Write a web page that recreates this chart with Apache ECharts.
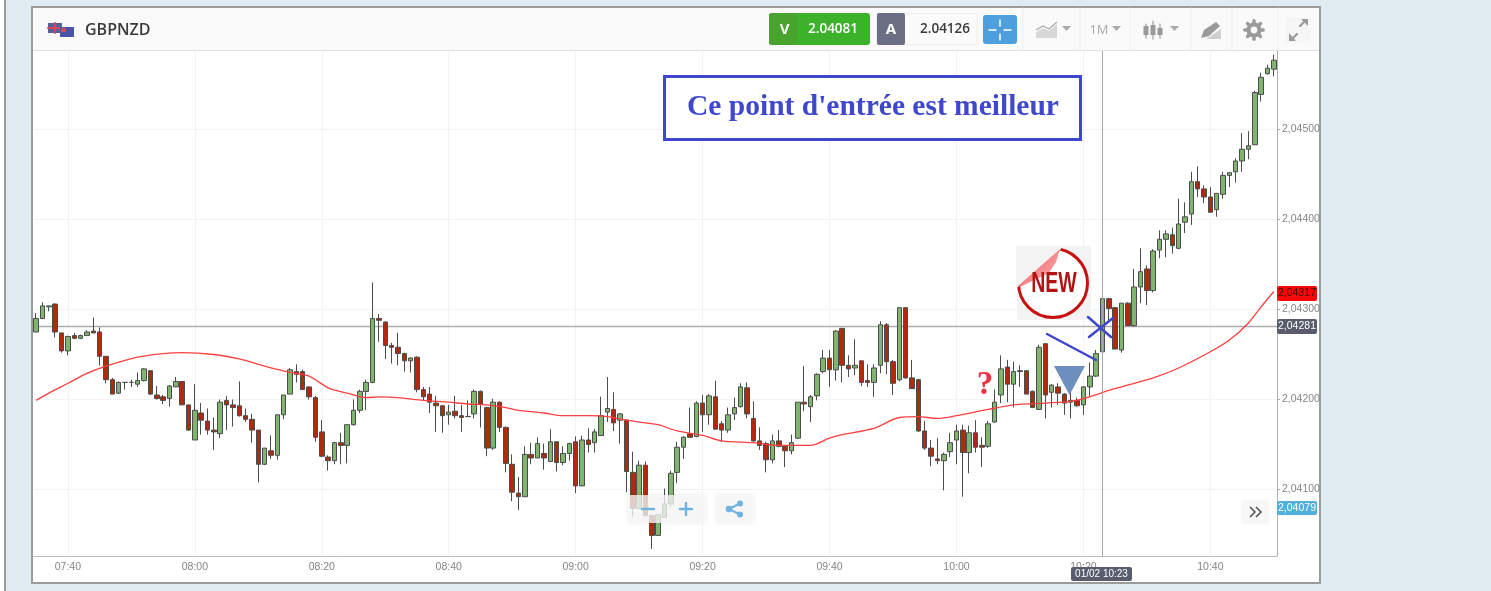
<!DOCTYPE html>
<html><head><meta charset="utf-8">
<style>
html,body{margin:0;padding:0;width:1491px;height:591px;overflow:hidden;background:#fff}
#bg{position:absolute;left:4px;top:0;width:1487px;height:591px;background:#dfeaf1;border-left:2px solid #9b9b9b;box-sizing:border-box}
#frame{position:absolute;left:31px;top:6px;width:1290px;height:578px;background:#fff;border:2px solid #9b9b9b;box-sizing:border-box}
#head{position:absolute;left:33px;top:8px;width:1286px;height:43px;background:#fafafa;border-bottom:1px solid #e2e2e2;box-sizing:border-box}
#c{position:absolute;left:0;top:0;width:1491px;height:591px}
</style>
<script src="https://cdn.jsdelivr.net/npm/echarts@6/dist/echarts.min.js"></script>
</head><body>
<div id="bg"></div><div id="frame"></div><div id="head"></div><div id="c"></div>
<script>
const symbolName = 'GBPNZD';
const bid = '2.04081', ask = '2.04126';
const lastPrice = 2.04281;
const yTicks = [2.041, 2.042, 2.043, 2.044, 2.045];
const opens = [2.04275,2.04290,2.04303,2.04306,2.04274,2.04254,2.04271,2.04268,2.04271,2.04276,
2.04275,2.04248,2.04222,2.04207,2.04219,2.04219,2.04217,2.04221,2.04232,2.04205,
2.04203,2.04201,2.04214,2.04220,2.04194,2.04155,2.04185,2.04176,2.04166,2.04162,
2.04199,2.04194,2.04193,2.04182,2.04178,2.04166,2.04128,2.04143,2.04138,2.04183,
2.04206,2.04231,2.04231,2.04214,2.04202,2.04164,2.04136,2.04132,2.04152,2.04149,
2.04172,2.04188,2.04209,2.04219,2.04290,2.04286,2.04260,2.04258,2.04251,2.04243,
2.04247,2.04211,2.04206,2.04196,2.04193,2.04183,2.04187,2.04182,2.04181,2.04184,
2.04209,2.04191,2.04146,2.04197,2.04169,2.04128,2.04096,2.04092,2.04139,2.04135,
2.04140,2.04131,2.04153,2.04130,2.04140,2.04153,2.04104,2.04155,2.04152,2.04160,
2.04186,2.04189,2.04177,2.04177,2.04119,2.04079,2.04127,2.04071,2.04049,2.04069,
2.04084,2.04119,2.04147,2.04162,2.04159,2.04196,2.04183,2.04203,2.04173,2.04166,
2.04184,2.04192,2.04213,2.04179,2.04154,2.04151,2.04133,2.04154,2.04148,2.04143,
2.04157,2.04197,2.04192,2.04204,2.04231,2.04246,2.04233,2.04279,2.04238,2.04235,
2.04243,2.04221,2.04219,2.04238,2.04283,2.04242,2.04222,2.04302,2.04224,2.04222,
2.04165,2.04146,2.04134,2.04132,2.04142,2.04155,2.04166,2.04141,2.04163,2.04149,
2.04148,2.04175,2.04205,2.04236,2.04217,2.04232,2.04232,2.04209,2.04189,2.04262,
2.04208,2.04214,2.04206,2.04197,2.04199,2.04194,2.04214,2.04226,2.04253,2.04312,
2.04302,2.04255,2.04307,2.04282,2.04325,2.04345,2.04321,2.04366,2.04378,2.04383,
2.04368,2.04397,2.04406,2.04442,2.04434,2.04425,2.04411,2.04428,2.04449,2.04453,
2.04465,2.04478,2.04483,2.04539,2.04562,2.04567];
const closes = [2.04290,2.04304,2.04304,2.04275,2.04254,2.04270,2.04268,2.04271,2.04275,2.04274,
2.04248,2.04222,2.04206,2.04219,2.04219,2.04219,2.04221,2.04234,2.04206,2.04201,
2.04199,2.04215,2.04220,2.04194,2.04166,2.04188,2.04177,2.04166,2.04164,2.04197,
2.04194,2.04191,2.04182,2.04178,2.04166,2.04128,2.04146,2.04138,2.04183,2.04205,
2.04233,2.04228,2.04211,2.04203,2.04158,2.04137,2.04132,2.04152,2.04149,2.04172,
2.04188,2.04209,2.04219,2.04290,2.04288,2.04260,2.04258,2.04251,2.04243,2.04246,
2.04211,2.04203,2.04197,2.04193,2.04182,2.04186,2.04182,2.04180,2.04181,2.04209,
2.04195,2.04146,2.04197,2.04169,2.04129,2.04097,2.04092,2.04139,2.04135,2.04151,
2.04135,2.04153,2.04130,2.04140,2.04151,2.04104,2.04155,2.04150,2.04164,2.04182,
2.04190,2.04174,2.04184,2.04120,2.04079,2.04127,2.04071,2.04049,2.04072,2.04084,
2.04118,2.04147,2.04158,2.04158,2.04196,2.04183,2.04204,2.04167,2.04166,2.04183,
2.04191,2.04214,2.04184,2.04154,2.04149,2.04133,2.04154,2.04148,2.04143,2.04152,
2.04197,2.04195,2.04203,2.04228,2.04246,2.04233,2.04276,2.04238,2.04234,2.04238,
2.04219,2.04219,2.04235,2.04283,2.04242,2.04218,2.04302,2.04224,2.04212,2.04165,
2.04146,2.04137,2.04132,2.04139,2.04152,2.04165,2.04141,2.04163,2.04147,2.04147,
2.04173,2.04197,2.04234,2.04217,2.04231,2.04231,2.04206,2.04191,2.04258,2.04205,
2.04216,2.04207,2.04196,2.04199,2.04193,2.04214,2.04226,2.04251,2.04312,2.04301,
2.04256,2.04307,2.04282,2.04325,2.04342,2.04321,2.04365,2.04378,2.04384,2.04371,
2.04395,2.04403,2.04442,2.04434,2.04425,2.04408,2.04429,2.04449,2.04452,2.04465,
2.04478,2.04482,2.04541,2.04558,2.04568,2.04577];
const lows = [2.04275,2.04290,2.04298,2.04269,2.04252,2.04249,2.04267,2.04267,2.04271,2.04274,
2.04238,2.04218,2.04206,2.04206,2.04211,2.04214,2.04214,2.04220,2.04205,2.04200,
2.04195,2.04192,2.04214,2.04194,2.04165,2.04155,2.04161,2.04161,2.04144,2.04157,
2.04166,2.04170,2.04181,2.04175,2.04152,2.04108,2.04127,2.04134,2.04133,2.04178,
2.04206,2.04219,2.04211,2.04200,2.04153,2.04136,2.04121,2.04128,2.04128,2.04129,
2.04171,2.04185,2.04188,2.04218,2.04264,2.04245,2.04240,2.04238,2.04231,2.04230,
2.04208,2.04199,2.04185,2.04164,2.04163,2.04172,2.04179,2.04164,2.04181,2.04179,
2.04169,2.04137,2.04144,2.04164,2.04119,2.04087,2.04077,2.04092,2.04128,2.04135,
2.04122,2.04131,2.04120,2.04127,2.04132,2.04096,2.04104,2.04141,2.04141,2.04160,
2.04175,2.04165,2.04151,2.04097,2.04070,2.04078,2.04070,2.04034,2.04049,2.04069,
2.04081,2.04107,2.04134,2.04158,2.04158,2.04164,2.04172,2.04167,2.04153,2.04163,
2.04177,2.04191,2.04179,2.04153,2.04144,2.04119,2.04129,2.04147,2.04125,2.04139,
2.04156,2.04187,2.04175,2.04199,2.04229,2.04214,2.04221,2.04219,2.04225,2.04227,
2.04215,2.04214,2.04203,2.04229,2.04228,2.04205,2.04220,2.04223,2.04212,2.04164,
2.04144,2.04126,2.04128,2.04099,2.04136,2.04128,2.04092,2.04118,2.04141,2.04125,
2.04146,2.04174,2.04196,2.04197,2.04191,2.04214,2.04206,2.04191,2.04189,2.04179,
2.04191,2.04194,2.04183,2.04179,2.04192,2.04183,2.04203,2.04225,2.04242,2.04288,
2.04256,2.04252,2.04282,2.04281,2.04307,2.04305,2.04319,2.04357,2.04358,2.04362,
2.04367,2.04385,2.04394,2.04425,2.04418,2.04408,2.04403,2.04423,2.04436,2.04441,
2.04453,2.04467,2.04483,2.04531,2.04561,2.04559];
const highs = [2.04296,2.04308,2.04304,2.04307,2.04274,2.04271,2.04274,2.04272,2.04277,2.04291,
2.04280,2.04248,2.04224,2.04220,2.04219,2.04222,2.04230,2.04235,2.04232,2.04215,
2.04205,2.04216,2.04225,2.04220,2.04194,2.04217,2.04196,2.04190,2.04180,2.04200,
2.04204,2.04200,2.04220,2.04190,2.04184,2.04166,2.04146,2.04160,2.04183,2.04205,
2.04235,2.04239,2.04233,2.04214,2.04204,2.04177,2.04138,2.04153,2.04163,2.04172,
2.04200,2.04211,2.04222,2.04330,2.04295,2.04287,2.04263,2.04274,2.04252,2.04247,
2.04248,2.04214,2.04214,2.04204,2.04194,2.04194,2.04204,2.04194,2.04199,2.04211,
2.04210,2.04192,2.04201,2.04198,2.04170,2.04139,2.04114,2.04148,2.04152,2.04158,
2.04151,2.04167,2.04153,2.04148,2.04152,2.04159,2.04160,2.04168,2.04167,2.04203,
2.04225,2.04208,2.04185,2.04178,2.04142,2.04132,2.04131,2.04071,2.04072,2.04101,
2.04121,2.04153,2.04159,2.04191,2.04198,2.04205,2.04206,2.04221,2.04176,2.04191,
2.04202,2.04218,2.04219,2.04198,2.04169,2.04153,2.04161,2.04166,2.04149,2.04161,
2.04197,2.04237,2.04205,2.04229,2.04255,2.04255,2.04277,2.04279,2.04249,2.04267,
2.04243,2.04239,2.04239,2.04287,2.04285,2.04244,2.04302,2.04302,2.04244,2.04223,
2.04176,2.04155,2.04157,2.04141,2.04163,2.04172,2.04172,2.04171,2.04177,2.04158,
2.04176,2.04211,2.04249,2.04244,2.04242,2.04238,2.04232,2.04210,2.04261,2.04262,
2.04217,2.04218,2.04207,2.04211,2.04202,2.04215,2.04241,2.04255,2.04314,2.04313,
2.04303,2.04307,2.04308,2.04345,2.04368,2.04349,2.04367,2.04388,2.04388,2.04391,
2.04423,2.04419,2.04453,2.04459,2.04438,2.04436,2.04429,2.04453,2.04452,2.04468,
2.04496,2.04498,2.04543,2.04563,2.04572,2.04583];
const maIndex = [0,2,5,8,11,16,20,23,28,32,36,40,43,46,49,52,54,57,61,65,68,71,74,76,80,83,87,90,93,96,98,101,105,108,113,117,122,125,127,132,136,139,142,145,150,154,159,163,166,169,171,176,180,185,188,191,193,195];
const maValue = [2.04199,2.04207,2.04218,2.04229,2.04237,2.04247,2.04251,2.04252,2.04250,2.04245,2.04237,2.04230,2.04226,2.04213,2.04207,2.04202,2.04203,2.04202,2.04199,2.04197,2.04195,2.04194,2.04191,2.04188,2.04185,2.04182,2.04182,2.04181,2.04177,2.04174,2.04172,2.04165,2.04160,2.04154,2.04152,2.04149,2.04149,2.04157,2.04161,2.04168,2.04180,2.04181,2.04179,2.04182,2.04189,2.04194,2.04196,2.04198,2.04203,2.04210,2.04214,2.04224,2.04235,2.04253,2.04266,2.04285,2.04303,2.04320];

const categories = [];
for (let i = 0; i < opens.length; i++) {
  const m = 7 * 60 + 35 + i;
  categories.push(String(Math.floor(m / 60)).padStart(2, '0') + ':' + String(m % 60).padStart(2, '0'));
}
const candleData = opens.map((o, i) => [o, closes[i], lows[i], highs[i]]);
const maData = categories.map(() => null);
maIndex.forEach((k, j) => { maData[k] = maValue[j]; });
const fmt = v => v.toFixed(5).replace('.', ',');
const isLabel = i => i % 20 === 5;

const BLUE = '#3f48cc', GREY = '#9a9a9a';
const rect = (x, y, w, h, fill, extra) => ({type:'rect', shape:{x, y, width:w, height:h, r:(extra&&extra.r)||0}, style:{fill}});
const line = (x1, y1, x2, y2, stroke, lineWidth) => ({type:'line', shape:{x1, y1, x2, y2}, style:{stroke, lineWidth, lineCap:'round'}});
const text = (x, y, t, font, fill, align) => ({type:'text', x, y, style:{text:t, font, fill, align:align||'center', verticalAlign:'middle'}});
const poly = (points, fill) => ({type:'polygon', shape:{points}, style:{fill}});

const gears = [];
for (let a = 0; a < 8; a++) {
  const r = a * Math.PI / 4;
  gears.push(line(1254 + 6 * Math.cos(r), 30 + 6 * Math.sin(r), 1254 + 9.2 * Math.cos(r), 30 + 9.2 * Math.sin(r), GREY, 3.4));
}
const deco = [
  // symbol
  rect(48, 23, 14, 10, '#5a5f9a'), line(48,28,62,28,'#e0405a',2), line(55,23,55,33,'#e0405a',2),
  rect(60, 27, 14, 10, '#4a55a8'), rect(61, 28, 5, 4, '#c9505f'),
  text(85, 30.5, symbolName, '600 16px "Open Sans"', '#3a3a3a', 'left'),
  // bid / ask
  rect(769, 13, 101, 32, '#3cb22a', {r:3}), rect(769, 13, 28, 32, '#4aa32f', {r:3}),
  text(784.5, 30, 'V', '700 15px "Open Sans"', '#fff'),
  text(833, 29, bid, '600 13.5px "Open Sans"', '#fff'),
  {type:'rect', shape:{x:877,y:13.5,width:100,height:31,r:2}, style:{fill:'#fbfbfb',stroke:'#ececec'}},
  rect(877, 13, 28, 32, '#6c6f84', {r:2}),
  text(891, 30, 'A', '700 15px "Open Sans"', '#fff'),
  text(945, 29, ask, '600 13.5px "Open Sans"', '#3a3a3a'),
  rect(983, 15, 34, 29, '#4d9fdd', {r:3}),
  line(989,30,996,30,'#fff',1.5), line(1004,30,1011,30,'#fff',1.5), line(1000,20,1000,26,'#fff',1.5), line(1000,34,1000,40,'#fff',1.5),
  // separators
  line(1023,8,1023,50,'#efefef',1), line(1080,8,1080,50,'#efefef',1), line(1130,8,1130,50,'#efefef',1), line(1191,8,1191,50,'#efefef',1), line(1232,8,1232,50,'#efefef',1), line(1278,8,1278,50,'#efefef',1),
  // toolbar icons
  poly([[1036,38],[1036,32],[1043,28],[1049,31],[1057,24],[1057,38]], '#d8d8d8'),
  {type:'polyline', shape:{points:[[1036,30],[1043,26],[1049,29],[1057,22]]}, style:{stroke:'#aaa',lineWidth:1.2,fill:null}},
  poly([[1062,26],[1071,26],[1066.5,31]], '#aaa'),
  text(1099, 30, '1M', '400 13px "Open Sans"', '#aaa'),
  poly([[1112,26],[1121,26],[1116.5,31]], '#aaa'),
  line(1146,24,1146,38,GREY,1.2), rect(1143.5,26,5,9,'#999'),
  line(1153,21,1153,39,GREY,1.2), rect(1150.5,25,5,10,'#999'),
  line(1160,24,1160,38,GREY,1.2), rect(1157.5,28,5,7,'#999'),
  poly([[1170,26],[1179,26],[1174.5,31]], '#aaa'),
  poly([[1201,38],[1204,30],[1216,22],[1220,26],[1209,36]], GREY),
  poly([[1206,39],[1221,29],[1221,39]], '#cfcfcf'),
  {type:'circle', shape:{cx:1254,cy:30,r:5.5}, style:{fill:'none',stroke:GREY,lineWidth:4.2}},
  ...gears,
  rect(1285, 17, 26, 26, '#f6f6f6'),
  line(1300,26,1306,20,GREY,2.2), poly([[1301,19],[1308,19],[1308,26]], GREY),
  line(1297,34,1291,40,GREY,2.2), poly([[1289,33],[1289,41],[1296,41]], GREY),
  // note
  {type:'rect', shape:{x:664.5,y:76.5,width:416,height:63}, style:{fill:'#fff',stroke:BLUE,lineWidth:3}},
  text(873, 107.5, "Ce point d'entrée est meilleur", '700 29.5px "Liberation Serif"', BLUE),
  // sticker
  rect(1017, 246, 74, 74, '#f3f3f3'),
  {type:'circle', shape:{cx:1053,cy:283,r:34.5}, style:{fill:'#fff',stroke:'#c81010',lineWidth:3}},
  poly([[1016,246],[1061,246],[1061,249],[1018,287],[1016,287]], '#f3f3f3'),
  {type:'polygon', shape:{points:[[1018,286],[1060,249],[1056,262],[1049,273],[1036,279],[1022,286]]},
   style:{fill:new echarts.graphic.LinearGradient(0,0,1,1,[{offset:0,color:'#f25a62'},{offset:1,color:'#f9b0b0'}])}},
  Object.assign(text(1054, 284, 'NEW', '900 30px "Liberation Sans"', '#b01414'), {scaleX:0.65}),
  // marks
  text(985, 385, '?', '700 33px "Liberation Serif"', '#f03040'),
  poly([[1054,366],[1085,366],[1069.5,395]], '#6d8fbd'),
  line(1047,334,1096,360,BLUE,2.5), line(1088,317,1111,337,BLUE,2.5), line(1113,318,1089,337,BLUE,2.5),
  // controls
  {type:'rect', shape:{x:628,y:495,width:78,height:28,r:3}, style:{fill:'rgba(250,250,250,0.78)',shadowBlur:3,shadowColor:'rgba(0,0,0,0.12)'}},
  {type:'rect', shape:{x:716,y:495,width:38,height:28,r:3}, style:{fill:'rgba(250,250,250,0.78)',shadowBlur:3,shadowColor:'rgba(0,0,0,0.12)'}},
  line(642,509,654,509,'#6fb3e0',2.4), line(680,509,692,509,'#6fb3e0',2.4), line(686,503,686,515,'#6fb3e0',2.4),
  line(729,509,740,503.5,'#6fb3e0',2), line(729,509,740,514.5,'#6fb3e0',2),
  {type:'circle', shape:{cx:729,cy:509,r:3.3}, style:{fill:'#6fb3e0'}},
  {type:'circle', shape:{cx:740,cy:503.5,r:3}, style:{fill:'#6fb3e0'}},
  {type:'circle', shape:{cx:740,cy:514.5,r:3}, style:{fill:'#6fb3e0'}},
  {type:'rect', shape:{x:1242,y:501,width:26,height:22,r:2}, style:{fill:'#f7f7f7',shadowBlur:2,shadowColor:'rgba(0,0,0,0.12)'}},
  {type:'polyline', shape:{points:[[1250,507],[1255,512],[1250,517]]}, style:{stroke:'#555',lineWidth:1.6,fill:null}},
  {type:'polyline', shape:{points:[[1256,507],[1261,512],[1256,517]]}, style:{stroke:'#555',lineWidth:1.6,fill:null}},
  // price and time tags
  rect(1277, 286, 40, 15, '#f80808', {r:2}), text(1297, 293.5, '2,04317', '400 10.5px "Liberation Sans"', '#3a0a0a'),
  rect(1277, 319, 40, 15, '#585c6c', {r:2}), text(1297, 326.5, '2,04281', '400 10.5px "Liberation Sans"', '#fff'),
  rect(1277, 501, 40, 14, '#4fb0de', {r:2}), text(1297, 508, '2,04079', '400 10.5px "Liberation Sans"', '#fff'),
  rect(1071, 567, 61, 14, '#585c6c', {r:2}), text(1101.5, 574, '01/02 10:23', '400 10px "Liberation Sans"', '#fff')
];
deco.forEach((d, i) => { d.id = 'deco' + i; d.z = 100; d.silent = true; });

const chart = echarts.init(document.getElementById('c'), null, {renderer:'canvas'});
chart.setOption({
  animation: false,
  backgroundColor: 'transparent',
  grid: {left:33, right:214, top:51, bottom:35, containLabel:false},
  xAxis: {
    type:'category', data:categories, boundaryGap:true,
    axisLine:{lineStyle:{color:'#bdbdbd'}},
    axisTick:{alignWithLabel:true, interval:i=>isLabel(i), length:4, lineStyle:{color:'#aaa'}},
    axisLabel:{interval:i=>isLabel(i), color:'#858585', fontSize:10.5, fontFamily:'Liberation Sans', margin:6},
    splitLine:{show:true, alignWithLabel:true, interval:i=>isLabel(i), lineStyle:{color:'#f3f3f3'}}
  },
  yAxis: {
    type:'value', position:'right', min:2.040261, max:2.045872, scale:true,
    axisLine:{show:true, lineStyle:{color:'#b0b0b0'}},
    axisTick:{show:true, length:3, customValues:yTicks, lineStyle:{color:'#aaa'}},
    axisLabel:{customValues:yTicks, formatter:fmt, color:'#858585', fontSize:10.5, fontFamily:'Liberation Sans', margin:5},
    splitLine:{show:true, lineStyle:{color:'#f3f3f3'}}
  },
  series: [
    {type:'candlestick', name:symbolName, data:candleData, barWidth:5, z:3,
     itemStyle:{color:'#7fb56e', color0:'#b02a0c', borderColor:'#4c4c4c', borderColor0:'#4c4c4c', borderColorDoji:'#4c4c4c', borderWidth:1}},
    {type:'line', name:'MA', data:maData, connectNulls:true, smooth:0.3, showSymbol:false, symbol:'none', z:4,
     lineStyle:{color:'#ff3f3f', width:1.3},
     markLine:{silent:true, symbol:'none', label:{show:false}, animation:false,
       lineStyle:{color:'#a8a8a8', width:1, type:'solid'},
       data:[{xAxis:'10:23'}]}}
  ],
  graphic: {elements: deco}
});
const lastY = chart.convertToPixel({yAxisIndex:0}, lastPrice);
chart.setOption({graphic:{elements:[{id:'lastPriceLine', type:'line', z:1, silent:true,
  shape:{x1:33, y1:lastY, x2:1277, y2:lastY}, style:{stroke:'#adadad', lineWidth:1.5}}]}});
</script>
</body></html>
